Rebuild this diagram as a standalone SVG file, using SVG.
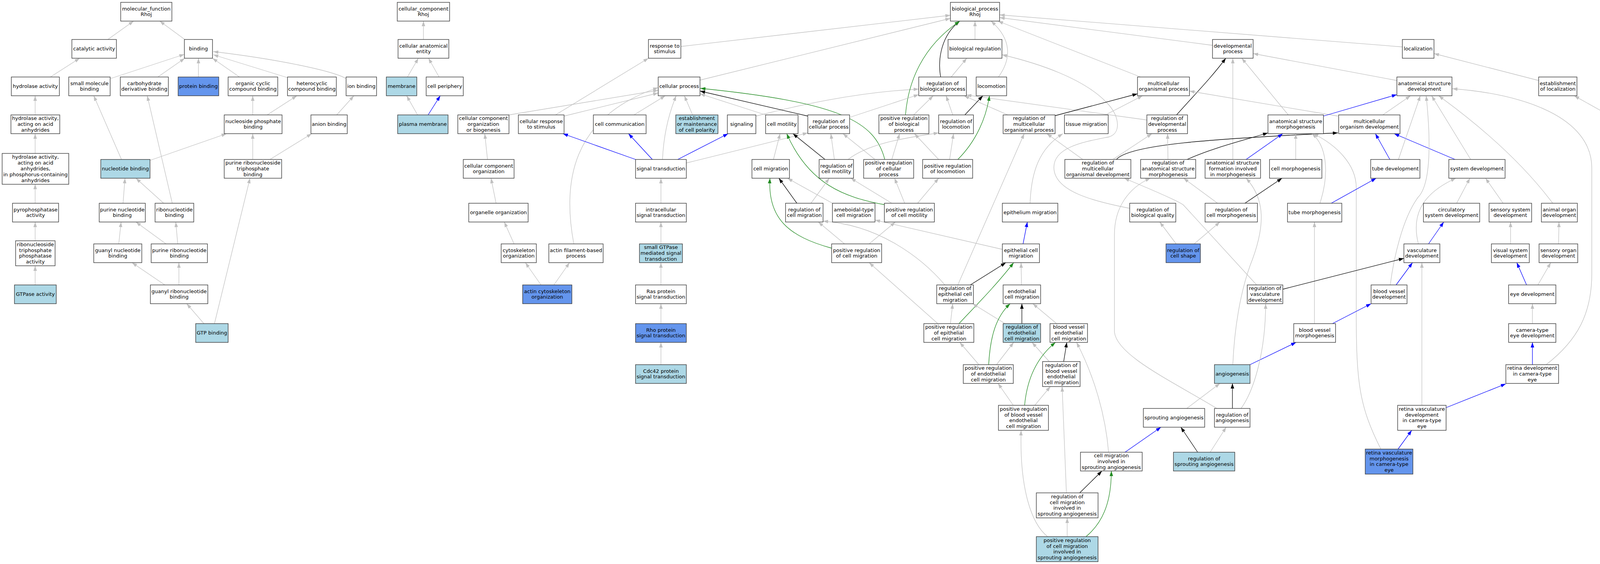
<svg xmlns="http://www.w3.org/2000/svg" width="4239" height="1443" viewBox="0 0 4239 1443">
<style>
.n rect{stroke:#3a3a3a;stroke-width:1.4}
.w{fill:#fff}.lb{fill:#ADD8E6}.cb{fill:#6495ED}
text{font-family:"DejaVu Sans",Verdana,sans-serif;font-size:13px;text-anchor:middle;fill:#000}
#edges path{fill:none;stroke-width:1.3}
.g{stroke:#C0C0C0;marker-end:url(#ag)}
.k{stroke:#000;marker-end:url(#ak)}
.b{stroke:#0000FF;marker-end:url(#ab)}
.gr{stroke:#228B22;marker-end:url(#agr)}
</style>
<defs>
<marker id="ag" markerUnits="userSpaceOnUse" markerWidth="14" markerHeight="10" refX="13" refY="5" orient="auto"><path d="M0,0.5L13,5L0,9.5z" fill="#C0C0C0"/></marker>
<marker id="ak" markerUnits="userSpaceOnUse" markerWidth="14" markerHeight="10" refX="13" refY="5" orient="auto"><path d="M0,0.5L13,5L0,9.5z" fill="#000"/></marker>
<marker id="ab" markerUnits="userSpaceOnUse" markerWidth="14" markerHeight="10" refX="13" refY="5" orient="auto"><path d="M0,0.5L13,5L0,9.5z" fill="#0000FF"/></marker>
<marker id="agr" markerUnits="userSpaceOnUse" markerWidth="14" markerHeight="10" refX="13" refY="5" orient="auto"><path d="M0,0.5L13,5L0,9.5z" fill="#228B22"/></marker>
</defs>
<rect x="0" y="0" width="4239" height="1443" fill="#fff"/>
<g id="edges">
<path class="g" d="M276,101L342,54"/>
<path class="g" d="M473,101L409,54"/>
<path class="g" d="M129,197L204,149"/>
<path class="g" d="M283,201L472,139"/>
<path class="g" d="M404,197L473,149"/>
<path class="g" d="M508,197L508,149"/>
<path class="g" d="M613,197L544,149"/>
<path class="g" d="M737,199L546,140"/>
<path class="g" d="M886,201C850,180 700,150 546,132"/>
<path class="g" d="M90,294L90,245"/>
<path class="g" d="M311,408L240,245"/>
<path class="g" d="M385,410L580,342"/>
<path class="g" d="M441,520L377,245"/>
<path class="g" d="M647,294L647,245"/>
<path class="g" d="M684,294L760,245"/>
<path class="g" d="M647,408L647,342"/>
<path class="g" d="M691,408L798,342"/>
<path class="g" d="M862,294L906,245"/>
<path class="g" d="M90,392L90,342"/>
<path class="g" d="M315,520L320,456"/>
<path class="g" d="M419,520L348,456"/>
<path class="g" d="M90,520L90,471"/>
<path class="g" d="M90,616L90,568"/>
<path class="g" d="M304,624L310,568"/>
<path class="g" d="M425,624L348,568"/>
<path class="g" d="M455,624L450,568"/>
<path class="g" d="M90,729L90,680"/>
<path class="g" d="M422,729L338,672"/>
<path class="g" d="M458,729L458,672"/>
<path class="g" d="M522,828L478,777"/>
<path class="g" d="M549,828L640,456"/>
<path class="g" d="M1084,101L1084,54"/>
<path class="g" d="M1043,197L1071,149"/>
<path class="g" d="M1124,197L1097,149"/>
<path class="g" d="M1069,294L1041,245"/>
<path class="b" d="M1096,294L1127,245"/>
<path class="g" d="M1303,294L1685,231"/>
<path class="g" d="M1422,294L1660,149"/>
<path class="g" d="M1444,297L1685,238"/>
<path class="g" d="M1469,624C1440,470 1460,300 1685,224"/>
<path class="g" d="M1792,205L2433,47"/>
<path class="g" d="M1743,119L2433,39"/>
<path class="g" d="M1623,294L1703,245"/>
<path class="g" d="M1696,408Q1700,320 1731,245"/>
<path class="g" d="M1773,294L1752,245"/>
<path class="g" d="M1935,297C2040,270 2200,235 2352,228"/>
<path class="b" d="M1627,408L1441,342"/>
<path class="b" d="M1670,408L1609,342"/>
<path class="b" d="M1735,408L1864,342"/>
<path class="g" d="M1757,417L2068,340"/>
<path class="g" d="M1960,294L1792,240"/>
<path class="k" d="M2068,297L1792,233"/>
<path class="gr" d="M2265,408C2240,310 2150,262 1793,226"/>
<path class="g" d="M1980,408L1997,342"/>
<path class="g" d="M2136,408L2127,342"/>
<path class="k" d="M2112,408L2030,342"/>
<path class="gr" d="M2266,524C2160,505 2070,470 2014,342"/>
<path class="k" d="M2040,520L1994,456"/>
<path class="g" d="M2076,520L2123,456"/>
<path class="g" d="M2131,520L2016,456"/>
<path class="gr" d="M2129,635C2020,605 1965,560 1971,456"/>
<path class="g" d="M2162,624L2095,568"/>
<path class="g" d="M2419,729C2360,660 2250,575 2107,566"/>
<path class="g" d="M2566,638L2240,563"/>
<path class="g" d="M2225,624L2292,568"/>
<path class="g" d="M2401,828L2225,672"/>
<path class="g" d="M2496,101L2496,54"/>
<path class="g" d="M2435,197L2475,149"/>
<path class="k" d="M2408,197C2400,150 2410,90 2457,54"/>
<path class="gr" d="M2318,294C2325,210 2360,120 2457,54"/>
<path class="g" d="M2556,197C2590,150 2590,100 2537,54"/>
<path class="g" d="M3590,120L2559,38"/>
<path class="g" d="M3104,116L2559,45"/>
<path class="g" d="M2920,197L2555,54"/>
<path class="g" d="M2892,533C2800,515 2700,490 2698,430C2696,375 2780,362 2840,350C2870,340 2865,300 2840,270C2780,200 2650,160 2565,140"/>
<path class="g" d="M2580,294L2468,245"/>
<path class="g" d="M2936,307L2474,243"/>
<path class="k" d="M2701,296L2912,240"/>
<path class="g" d="M2339,294L2389,245"/>
<path class="g" d="M2439,294L2422,245"/>
<path class="k" d="M2470,294L2516,245"/>
<path class="gr" d="M2452,408C2500,360 2525,300 2533,245"/>
<path class="g" d="M2176,300L2352,242"/>
<path class="g" d="M2240,408L2158,342"/>
<path class="g" d="M2283,408L2303,342"/>
<path class="g" d="M2171,408C2220,370 2300,355 2403,340"/>
<path class="g" d="M2403,408L2341,342"/>
<path class="g" d="M2431,408L2441,342"/>
<path class="g" d="M2283,520L2178,456"/>
<path class="g" d="M2316,520L2290,456"/>
<path class="g" d="M2349,520L2403,456"/>
<path class="g" d="M2452,729L2622,342"/>
<path class="g" d="M2772,408L2680,342"/>
<path class="k" d="M2484,729L2575,672"/>
<path class="gr" d="M2455,828C2500,780 2550,730 2595,672"/>
<path class="g" d="M2615,729L2614,672"/>
<path class="b" d="M2619,624L2630,568"/>
<path class="g" d="M2637,520C2640,440 2660,380 2721,342"/>
<path class="g" d="M2433,828L2439,777"/>
<path class="g" d="M2573,828L2490,777"/>
<path class="k" d="M2616,828L2616,777"/>
<path class="g" d="M2705,828L2644,777"/>
<path class="g" d="M2506,933L2457,876"/>
<path class="g" d="M2551,933L2595,876"/>
<path class="gr" d="M2531,933C2535,860 2550,810 2586,777"/>
<path class="g" d="M2686,925L2642,876"/>
<path class="k" d="M2723,925L2731,876"/>
<path class="g" d="M2594,1037L2555,981"/>
<path class="g" d="M2649,1037L2689,989"/>
<path class="gr" d="M2623,1037C2630,960 2660,910 2702,876"/>
<path class="g" d="M2838,1157C2830,1060 2800,960 2756,876"/>
<path class="g" d="M2730,1261L2719,989"/>
<path class="k" d="M2764,1261L2821,1205"/>
<path class="g" d="M2732,1373L2732,1325"/>
<path class="g" d="M2682,1373C2640,1340 2610,1250 2614,1101"/>
<path class="gr" d="M2780,1373C2820,1340 2845,1290 2845,1205"/>
<path class="k" d="M3012,294C3060,240 3100,200 3138,149"/>
<path class="g" d="M3156,408L3156,149"/>
<path class="g" d="M3298,294L3179,149"/>
<path class="g" d="M3576,206L3208,137"/>
<path class="g" d="M3425,297L3045,233"/>
<path class="b" d="M3388,297L3576,242"/>
<path class="g" d="M2830,294L2925,245"/>
<path class="g" d="M2849,408L2949,342"/>
<path class="k" d="M2858,408C2890,370 3100,355 3425,340"/>
<path class="g" d="M2990,408L2989,342"/>
<path class="k" d="M3039,408C3100,380 3180,360 3246,340"/>
<path class="b" d="M3190,408L3284,342"/>
<path class="g" d="M3317,408L3317,342"/>
<path class="g" d="M3379,520C3405,440 3395,370 3358,342"/>
<path class="g" d="M3535,1149C3480,1040 3472,980 3472,800L3472,480C3472,420 3420,370 3362,342"/>
<path class="b" d="M3558,408L3521,342"/>
<path class="b" d="M3725,408L3569,342"/>
<path class="g" d="M3580,408L3636,245"/>
<path class="g" d="M3540,294L3611,245"/>
<path class="g" d="M3559,729C3568,660 3590,560 3630,505C3665,470 3662,350 3651,245"/>
<path class="g" d="M3765,408L3665,245"/>
<path class="g" d="M3975,520C3900,420 3800,330 3683,245"/>
<path class="g" d="M3958,933C4040,870 4075,800 4075,700L4075,430C4075,300 3900,240 3718,227"/>
<path class="b" d="M3657,624L3696,568"/>
<path class="g" d="M3631,624C3615,560 3630,500 3727,456"/>
<path class="g" d="M3729,520L3763,456"/>
<path class="g" d="M3848,520L3803,456"/>
<path class="g" d="M3867,624L3867,568"/>
<path class="g" d="M3990,624L3991,568"/>
<path class="b" d="M3908,729L3883,672"/>
<path class="g" d="M3937,729L3970,672"/>
<path class="g" d="M3923,828L3923,777"/>
<path class="b" d="M3923,933L3923,876"/>
<path class="b" d="M3702,1043L3855,982"/>
<path class="g" d="M3640,1037L3640,672"/>
<path class="b" d="M3579,1149L3614,1101"/>
<path class="b" d="M3574,729L3616,672"/>
<path class="b" d="M3411,828L3510,777"/>
<path class="g" d="M3365,828L3365,568"/>
<path class="k" d="M3284,740L3594,661"/>
<path class="g" d="M3217,729L3030,525Q3020,515 2878,456"/>
<path class="g" d="M3115,1045C3000,975 2860,910 2853,850L2853,600C2853,530 2890,480 2945,456"/>
<path class="g" d="M3156,933C3160,840 3175,750 3200,680C3240,580 3240,510 3190,456"/>
<path class="g" d="M3117,520L3030,456"/>
<path class="k" d="M3187,520L3282,456"/>
<path class="g" d="M3011,624L2969,568"/>
<path class="g" d="M3057,624L3123,568"/>
<path class="b" d="M3408,520L3523,456"/>
<path class="b" d="M3200,933L3318,876"/>
<path class="g" d="M3038,1045L3123,981"/>
<path class="k" d="M3155,1045L3155,981"/>
<path class="g" d="M3177,1045C3210,1000 3240,900 3240,777"/>
<path class="b" d="M2880,1157L2972,1093"/>
<path class="k" d="M3066,1157L3023,1093"/>
<path class="g" d="M3098,1157L3139,1093"/>
<path class="g" d="M3939,206L3671,137"/>
<path class="g" d="M4123,297L4030,245"/>
<path class="g" d="M4170,408L4164,342"/>
<path class="g" d="M4173,520L4173,456"/>
<path class="g" d="M1248,408L1241,342"/>
<path class="g" d="M1270,520L1257,456"/>
<path class="g" d="M1316,624L1291,568"/>
<path class="g" d="M1385,729L1345,672"/>
<path class="g" d="M1418,729L1458,672"/>
<path class="g" d="M1692,520L1692,456"/>
<path class="g" d="M1692,624L1692,568"/>
<path class="g" d="M1692,729L1692,672"/>
<path class="g" d="M1692,828L1692,777"/>
<path class="g" d="M1692,933L1692,876"/>
</g>
<g id="nodes">
<g id="n_mf" class="n"><rect class="w" x="309" y="6" width="131" height="48"/><text x="374.5" y="26.6"><tspan x="374.5">molecular_function</tspan><tspan x="374.5" dy="14.8">Rhoj</tspan></text></g>
<g id="n_cat" class="n"><rect class="w" x="184" y="101" width="114" height="48"/><text x="241" y="129">catalytic activity</text></g>
<g id="n_bind" class="n"><rect class="w" x="472" y="101" width="72" height="48"/><text x="508" y="129">binding</text></g>
<g id="n_hyd" class="n"><rect class="w" x="29" y="197" width="123" height="48"/><text x="90.5" y="225">hydrolase activity</text></g>
<g id="n_smb" class="n"><rect class="w" x="176" y="197" width="106" height="48"/><text x="229" y="217.6"><tspan x="229">small molecule</tspan><tspan x="229" dy="14.8">binding</tspan></text></g>
<g id="n_cdb" class="n"><rect class="w" x="308" y="197" width="123" height="48"/><text x="369.5" y="217.6"><tspan x="369.5">carbohydrate</tspan><tspan x="369.5" dy="14.8">derivative binding</tspan></text></g>
<g id="n_prot" class="n"><rect class="cb" x="456" y="197" width="104" height="48"/><text x="508" y="225">protein binding</text></g>
<g id="n_ocb" class="n"><rect class="w" x="584" y="197" width="127" height="48"/><text x="647.5" y="217.6"><tspan x="647.5">organic cyclic</tspan><tspan x="647.5" dy="14.8">compound binding</tspan></text></g>
<g id="n_hcb" class="n"><rect class="w" x="736" y="197" width="125" height="48"/><text x="798.5" y="217.6"><tspan x="798.5">heterocyclic</tspan><tspan x="798.5" dy="14.8">compound binding</tspan></text></g>
<g id="n_ion" class="n"><rect class="w" x="886" y="197" width="78" height="48"/><text x="925" y="225">ion binding</text></g>
<g id="n_mem" class="n"><rect class="lb" x="989" y="197" width="78" height="48"/><text x="1028" y="225">membrane</text></g>
<g id="n_cper" class="n"><rect class="w" x="1091" y="197" width="95" height="48"/><text x="1138.5" y="225">cell periphery</text></g>
<g id="n_haa" class="n"><rect class="w" x="28" y="294" width="125" height="48"/><text x="90.5" y="307.2"><tspan x="90.5">hydrolase activity,</tspan><tspan x="90.5" dy="14.8">acting on acid</tspan><tspan x="90.5" dy="14.8">anhydrides</tspan></text></g>
<g id="n_npb" class="n"><rect class="w" x="574" y="294" width="148" height="48"/><text x="648" y="314.6"><tspan x="648">nucleoside phosphate</tspan><tspan x="648" dy="14.8">binding</tspan></text></g>
<g id="n_anion" class="n"><rect class="w" x="796" y="294" width="93" height="48"/><text x="842.5" y="322">anion binding</text></g>
<g id="n_pm" class="n"><rect class="lb" x="1018" y="294" width="129" height="48"/><text x="1082.5" y="322">plasma membrane</text></g>
<g id="n_hpc" class="n"><rect class="w" x="5.5" y="392.5" width="170.5" height="79"/><text x="90.75" y="406.4"><tspan x="90.75">hydrolase activity,</tspan><tspan x="90.75" dy="14.8">acting on acid</tspan><tspan x="90.75" dy="14.8">anhydrides,</tspan><tspan x="90.75" dy="14.8">in phosphorus-containing</tspan><tspan x="90.75" dy="14.8">anhydrides</tspan></text></g>
<g id="n_nb" class="n"><rect class="lb" x="258" y="408" width="126" height="48"/><text x="321" y="436">nucleotide binding</text></g>
<g id="n_prtb" class="n"><rect class="w" x="574" y="408" width="147" height="48"/><text x="647.5" y="421.2"><tspan x="647.5">purine ribonucleoside</tspan><tspan x="647.5" dy="14.8">triphosphate</tspan><tspan x="647.5" dy="14.8">binding</tspan></text></g>
<g id="n_pyro" class="n"><rect class="w" x="32" y="520" width="118" height="48"/><text x="91" y="540.6"><tspan x="91">pyrophosphatase</tspan><tspan x="91" dy="14.8">activity</tspan></text></g>
<g id="n_pnb" class="n"><rect class="w" x="254" y="520" width="118" height="48"/><text x="313" y="540.6"><tspan x="313">purine nucleotide</tspan><tspan x="313" dy="14.8">binding</tspan></text></g>
<g id="n_rnb" class="n"><rect class="w" x="397" y="520" width="99" height="48"/><text x="446.5" y="540.6"><tspan x="446.5">ribonucleotide</tspan><tspan x="446.5" dy="14.8">binding</tspan></text></g>
<g id="n_rtpa" class="n"><rect class="w" x="40" y="616" width="101" height="64"/><text x="90.5" y="629.8"><tspan x="90.5">ribonucleoside</tspan><tspan x="90.5" dy="14.8">triphosphate</tspan><tspan x="90.5" dy="14.8">phosphatase</tspan><tspan x="90.5" dy="14.8">activity</tspan></text></g>
<g id="n_gnb" class="n"><rect class="w" x="240" y="624" width="123" height="48"/><text x="301.5" y="644.6"><tspan x="301.5">guanyl nucleotide</tspan><tspan x="301.5" dy="14.8">binding</tspan></text></g>
<g id="n_prnb" class="n"><rect class="w" x="387" y="624" width="144" height="48"/><text x="459" y="644.6"><tspan x="459">purine ribonucleotide</tspan><tspan x="459" dy="14.8">binding</tspan></text></g>
<g id="n_gtpase" class="n"><rect class="lb" x="37" y="729" width="107" height="48"/><text x="90.5" y="757">GTPase activity</text></g>
<g id="n_grnb" class="n"><rect class="w" x="385" y="729" width="147" height="48"/><text x="458.5" y="749.6"><tspan x="458.5">guanyl ribonucleotide</tspan><tspan x="458.5" dy="14.8">binding</tspan></text></g>
<g id="n_gtpb" class="n"><rect class="lb" x="501" y="828" width="83" height="48"/><text x="542.5" y="856">GTP binding</text></g>
<g id="n_cc" class="n"><rect class="w" x="1017" y="6" width="134" height="48"/><text x="1084" y="26.6"><tspan x="1084">cellular_component</tspan><tspan x="1084" dy="14.8">Rhoj</tspan></text></g>
<g id="n_cae" class="n"><rect class="w" x="1019" y="101" width="130" height="48"/><text x="1084" y="121.6"><tspan x="1084">cellular anatomical</tspan><tspan x="1084" dy="14.8">entity</tspan></text></g>
<g id="n_bp" class="n"><rect class="w" x="2433" y="6" width="126" height="48"/><text x="2496" y="26.6"><tspan x="2496">biological_process</tspan><tspan x="2496" dy="14.8">Rhoj</tspan></text></g>
<g id="n_rts" class="n"><rect class="w" x="1660" y="101" width="83" height="48"/><text x="1701.5" y="121.6"><tspan x="1701.5">response to</tspan><tspan x="1701.5" dy="14.8">stimulus</tspan></text></g>
<g id="n_breg" class="n"><rect class="w" x="2427" y="101" width="138" height="48"/><text x="2496" y="129">biological regulation</text></g>
<g id="n_dev" class="n"><rect class="w" x="3104" y="101" width="104" height="48"/><text x="3156" y="121.6"><tspan x="3156">developmental</tspan><tspan x="3156" dy="14.8">process</tspan></text></g>
<g id="n_loc" class="n"><rect class="w" x="3590" y="101" width="81" height="48"/><text x="3630.5" y="129">localization</text></g>
<g id="n_cp" class="n"><rect class="w" x="1685" y="197" width="107" height="48"/><text x="1738.5" y="225">cellular process</text></g>
<g id="n_rbp" class="n"><rect class="w" x="2352" y="197" width="122" height="48"/><text x="2413" y="217.6"><tspan x="2413">regulation of</tspan><tspan x="2413" dy="14.8">biological process</tspan></text></g>
<g id="n_locom" class="n"><rect class="w" x="2499" y="197" width="78" height="48"/><text x="2538" y="225">locomotion</text></g>
<g id="n_mop" class="n"><rect class="w" x="2912" y="197" width="133" height="48"/><text x="2978.5" y="217.6"><tspan x="2978.5">multicellular</tspan><tspan x="2978.5" dy="14.8">organismal process</tspan></text></g>
<g id="n_asd" class="n"><rect class="w" x="3576" y="197" width="141" height="48"/><text x="3646.5" y="217.6"><tspan x="3646.5">anatomical structure</tspan><tspan x="3646.5" dy="14.8">development</tspan></text></g>
<g id="n_eloc" class="n"><rect class="w" x="3939" y="197" width="98" height="48"/><text x="3988" y="217.6"><tspan x="3988">establishment</tspan><tspan x="3988" dy="14.8">of localization</tspan></text></g>
<g id="n_ccob" class="n"><rect class="w" x="1172" y="294" width="131" height="48"/><text x="1237.5" y="307.2"><tspan x="1237.5">cellular component</tspan><tspan x="1237.5" dy="14.8">organization</tspan><tspan x="1237.5" dy="14.8">or biogenesis</tspan></text></g>
<g id="n_crs" class="n"><rect class="w" x="1327" y="294" width="117" height="48"/><text x="1385.5" y="314.6"><tspan x="1385.5">cellular response</tspan><tspan x="1385.5" dy="14.8">to stimulus</tspan></text></g>
<g id="n_ccomm" class="n"><rect class="w" x="1519" y="294" width="135" height="48"/><text x="1586.5" y="322">cell communication</text></g>
<g id="n_ecp" class="n"><rect class="lb" x="1730" y="294" width="108" height="48"/><text x="1784" y="307.2"><tspan x="1784">establishment</tspan><tspan x="1784" dy="14.8">or maintenance</tspan><tspan x="1784" dy="14.8">of cell polarity</tspan></text></g>
<g id="n_sig" class="n"><rect class="w" x="1862" y="294" width="73" height="48"/><text x="1898.5" y="322">signaling</text></g>
<g id="n_cmot" class="n"><rect class="w" x="1960" y="294" width="83" height="48"/><text x="2001.5" y="322">cell motility</text></g>
<g id="n_rcp" class="n"><rect class="w" x="2068" y="294" width="107" height="48"/><text x="2121.5" y="314.6"><tspan x="2121.5">regulation of</tspan><tspan x="2121.5" dy="14.8">cellular process</tspan></text></g>
<g id="n_prbp" class="n"><rect class="w" x="2250" y="294" width="128" height="48"/><text x="2314" y="307.2"><tspan x="2314">positive regulation</tspan><tspan x="2314" dy="14.8">of biological</tspan><tspan x="2314" dy="14.8">process</tspan></text></g>
<g id="n_rloc" class="n"><rect class="w" x="2403" y="294" width="89" height="48"/><text x="2447.5" y="314.6"><tspan x="2447.5">regulation of</tspan><tspan x="2447.5" dy="14.8">locomotion</tspan></text></g>
<g id="n_rmop" class="n"><rect class="w" x="2568" y="294" width="133" height="48"/><text x="2634.5" y="307.2"><tspan x="2634.5">regulation of</tspan><tspan x="2634.5" dy="14.8">multicellular</tspan><tspan x="2634.5" dy="14.8">organismal process</tspan></text></g>
<g id="n_tmig" class="n"><rect class="w" x="2725" y="294" width="112" height="48"/><text x="2781" y="322">tissue migration</text></g>
<g id="n_rdp" class="n"><rect class="w" x="2936" y="294" width="104" height="48"/><text x="2988" y="307.2"><tspan x="2988">regulation of</tspan><tspan x="2988" dy="14.8">developmental</tspan><tspan x="2988" dy="14.8">process</tspan></text></g>
<g id="n_asm" class="n"><rect class="w" x="3246" y="294" width="142" height="48"/><text x="3317" y="314.6"><tspan x="3317">anatomical structure</tspan><tspan x="3317" dy="14.8">morphogenesis</tspan></text></g>
<g id="n_mod" class="n"><rect class="w" x="3427" y="294" width="157" height="48"/><text x="3505.5" y="314.6"><tspan x="3505.5">multicellular</tspan><tspan x="3505.5" dy="14.8">organism development</tspan></text></g>
<g id="n_trans" class="n"><rect class="w" x="4125" y="294" width="72" height="48"/><text x="4161" y="322">transport</text></g>
<g id="n_cco" class="n"><rect class="w" x="1186" y="408" width="130" height="48"/><text x="1251" y="428.6"><tspan x="1251">cellular component</tspan><tspan x="1251" dy="14.8">organization</tspan></text></g>
<g id="n_st" class="n"><rect class="w" x="1627" y="408" width="130" height="48"/><text x="1692" y="436">signal transduction</text></g>
<g id="n_cmig" class="n"><rect class="w" x="1925" y="408" width="96" height="48"/><text x="1973" y="436">cell migration</text></g>
<g id="n_rcm" class="n"><rect class="w" x="2097" y="408" width="88" height="48"/><text x="2141" y="428.6"><tspan x="2141">regulation of</tspan><tspan x="2141" dy="14.8">cell motility</tspan></text></g>
<g id="n_prcp" class="n"><rect class="w" x="2211" y="408" width="128" height="48"/><text x="2275" y="421.2"><tspan x="2275">positive regulation</tspan><tspan x="2275" dy="14.8">of cellular</tspan><tspan x="2275" dy="14.8">process</tspan></text></g>
<g id="n_prl" class="n"><rect class="w" x="2362" y="408" width="128" height="48"/><text x="2426" y="428.6"><tspan x="2426">positive regulation</tspan><tspan x="2426" dy="14.8">of locomotion</tspan></text></g>
<g id="n_rmod" class="n"><rect class="w" x="2726" y="408" width="169" height="48"/><text x="2810.5" y="421.2"><tspan x="2810.5">regulation of</tspan><tspan x="2810.5" dy="14.8">multicellular</tspan><tspan x="2810.5" dy="14.8">organismal development</tspan></text></g>
<g id="n_rasm" class="n"><rect class="w" x="2920" y="408" width="141" height="48"/><text x="2990.5" y="421.2"><tspan x="2990.5">regulation of</tspan><tspan x="2990.5" dy="14.8">anatomical structure</tspan><tspan x="2990.5" dy="14.8">morphogenesis</tspan></text></g>
<g id="n_asf" class="n"><rect class="w" x="3085" y="408" width="142" height="48"/><text x="3156" y="421.2"><tspan x="3156">anatomical structure</tspan><tspan x="3156" dy="14.8">formation involved</tspan><tspan x="3156" dy="14.8">in morphogenesis</tspan></text></g>
<g id="n_cmorph" class="n"><rect class="w" x="3250" y="408" width="134" height="48"/><text x="3317" y="436">cell morphogenesis</text></g>
<g id="n_tdev" class="n"><rect class="w" x="3509" y="408" width="126" height="48"/><text x="3572" y="436">tube development</text></g>
<g id="n_sysd" class="n"><rect class="w" x="3709" y="408" width="144" height="48"/><text x="3781" y="436">system development</text></g>
<g id="n_vmt" class="n"><rect class="w" x="4115" y="408" width="117" height="48"/><text x="4173.5" y="428.6"><tspan x="4173.5">vesicle-mediated</tspan><tspan x="4173.5" dy="14.8">transport</tspan></text></g>
<g id="n_oo" class="n"><rect class="w" x="1200" y="520" width="152" height="48"/><text x="1276" y="548">organelle organization</text></g>
<g id="n_ist" class="n"><rect class="w" x="1627" y="520" width="130" height="48"/><text x="1692" y="540.6"><tspan x="1692">intracellular</tspan><tspan x="1692" dy="14.8">signal transduction</tspan></text></g>
<g id="n_rcmig" class="n"><rect class="w" x="2011" y="520" width="96" height="48"/><text x="2059" y="540.6"><tspan x="2059">regulation of</tspan><tspan x="2059" dy="14.8">cell migration</tspan></text></g>
<g id="n_amig" class="n"><rect class="w" x="2131" y="520" width="109" height="48"/><text x="2185.5" y="540.6"><tspan x="2185.5">ameboidal-type</tspan><tspan x="2185.5" dy="14.8">cell migration</tspan></text></g>
<g id="n_prcmot" class="n"><rect class="w" x="2264" y="520" width="128" height="48"/><text x="2328" y="540.6"><tspan x="2328">positive regulation</tspan><tspan x="2328" dy="14.8">of cell motility</tspan></text></g>
<g id="n_epim" class="n"><rect class="w" x="2566" y="520" width="142" height="48"/><text x="2637" y="548">epithelium migration</text></g>
<g id="n_rbq" class="n"><rect class="w" x="2892" y="520" width="118" height="48"/><text x="2951" y="540.6"><tspan x="2951">regulation of</tspan><tspan x="2951" dy="14.8">biological quality</tspan></text></g>
<g id="n_rcmorph" class="n"><rect class="w" x="3085" y="520" width="134" height="48"/><text x="3152" y="540.6"><tspan x="3152">regulation of</tspan><tspan x="3152" dy="14.8">cell morphogenesis</tspan></text></g>
<g id="n_tmorph" class="n"><rect class="w" x="3296" y="520" width="139" height="48"/><text x="3365.5" y="548">tube morphogenesis</text></g>
<g id="n_csd" class="n"><rect class="w" x="3644" y="520" width="144" height="48"/><text x="3716" y="540.6"><tspan x="3716">circulatory</tspan><tspan x="3716" dy="14.8">system development</tspan></text></g>
<g id="n_ssd" class="n"><rect class="w" x="3812" y="520" width="109" height="48"/><text x="3866.5" y="540.6"><tspan x="3866.5">sensory system</tspan><tspan x="3866.5" dy="14.8">development</tspan></text></g>
<g id="n_aod" class="n"><rect class="w" x="3946" y="520" width="92" height="48"/><text x="3992" y="540.6"><tspan x="3992">animal organ</tspan><tspan x="3992" dy="14.8">development</tspan></text></g>
<g id="n_endo" class="n"><rect class="lb" x="4132" y="520" width="83" height="48"/><text x="4173.5" y="548">endocytosis</text></g>
<g id="n_cso" class="n"><rect class="w" x="1283" y="624" width="90" height="48"/><text x="1328" y="644.6"><tspan x="1328">cytoskeleton</tspan><tspan x="1328" dy="14.8">organization</tspan></text></g>
<g id="n_afbp" class="n"><rect class="w" x="1405" y="624" width="139" height="48"/><text x="1474.5" y="644.6"><tspan x="1474.5">actin filament-based</tspan><tspan x="1474.5" dy="14.8">process</tspan></text></g>
<g id="n_sgtp" class="n"><rect class="lb" x="1637" y="624" width="110" height="48"/><text x="1692" y="637.2"><tspan x="1692">small GTPase</tspan><tspan x="1692" dy="14.8">mediated signal</tspan><tspan x="1692" dy="14.8">transduction</tspan></text></g>
<g id="n_prcmig" class="n"><rect class="w" x="2129" y="624" width="128" height="48"/><text x="2193" y="644.6"><tspan x="2193">positive regulation</tspan><tspan x="2193" dy="14.8">of cell migration</tspan></text></g>
<g id="n_ecm" class="n"><rect class="w" x="2566" y="624" width="95" height="48"/><text x="2613.5" y="644.6"><tspan x="2613.5">epithelial cell</tspan><tspan x="2613.5" dy="14.8">migration</tspan></text></g>
<g id="n_rcs" class="n"><rect class="cb" x="2985" y="624" width="88" height="48"/><text x="3029" y="644.6"><tspan x="3029">regulation of</tspan><tspan x="3029" dy="14.8">cell shape</tspan></text></g>
<g id="n_vd" class="n"><rect class="w" x="3594" y="624" width="92" height="48"/><text x="3640" y="644.6"><tspan x="3640">vasculature</tspan><tspan x="3640" dy="14.8">development</tspan></text></g>
<g id="n_vsd" class="n"><rect class="w" x="3818" y="624" width="97" height="48"/><text x="3866.5" y="644.6"><tspan x="3866.5">visual system</tspan><tspan x="3866.5" dy="14.8">development</tspan></text></g>
<g id="n_sod" class="n"><rect class="w" x="3940" y="624" width="99" height="48"/><text x="3989.5" y="644.6"><tspan x="3989.5">sensory organ</tspan><tspan x="3989.5" dy="14.8">development</tspan></text></g>
<g id="n_aco" class="n"><rect class="cb" x="1338" y="729" width="126" height="48"/><text x="1401" y="749.6"><tspan x="1401">actin cytoskeleton</tspan><tspan x="1401" dy="14.8">organization</tspan></text></g>
<g id="n_ras" class="n"><rect class="w" x="1627" y="729" width="130" height="48"/><text x="1692" y="749.6"><tspan x="1692">Ras protein</tspan><tspan x="1692" dy="14.8">signal transduction</tspan></text></g>
<g id="n_recm" class="n"><rect class="w" x="2398" y="729" width="94" height="48"/><text x="2445" y="742.2"><tspan x="2445">regulation of</tspan><tspan x="2445" dy="14.8">epithelial cell</tspan><tspan x="2445" dy="14.8">migration</tspan></text></g>
<g id="n_encm" class="n"><rect class="w" x="2568" y="729" width="96" height="48"/><text x="2616" y="749.6"><tspan x="2616">endothelial</tspan><tspan x="2616" dy="14.8">cell migration</tspan></text></g>
<g id="n_rvd" class="n"><rect class="w" x="3193" y="729" width="91" height="48"/><text x="3238.5" y="742.2"><tspan x="3238.5">regulation of</tspan><tspan x="3238.5" dy="14.8">vasculature</tspan><tspan x="3238.5" dy="14.8">development</tspan></text></g>
<g id="n_bvd" class="n"><rect class="w" x="3510" y="729" width="92" height="48"/><text x="3556" y="749.6"><tspan x="3556">blood vessel</tspan><tspan x="3556" dy="14.8">development</tspan></text></g>
<g id="n_eye" class="n"><rect class="w" x="3862" y="729" width="121" height="48"/><text x="3922.5" y="757">eye development</text></g>
<g id="n_rho" class="n"><rect class="cb" x="1627" y="828" width="130" height="48"/><text x="1692" y="848.6"><tspan x="1692">Rho protein</tspan><tspan x="1692" dy="14.8">signal transduction</tspan></text></g>
<g id="n_precm" class="n"><rect class="w" x="2365" y="828" width="128" height="48"/><text x="2429" y="841.2"><tspan x="2429">positive regulation</tspan><tspan x="2429" dy="14.8">of epithelial</tspan><tspan x="2429" dy="14.8">cell migration</tspan></text></g>
<g id="n_rencm" class="n"><rect class="lb" x="2568" y="828" width="96" height="48"/><text x="2616" y="841.2"><tspan x="2616">regulation of</tspan><tspan x="2616" dy="14.8">endothelial</tspan><tspan x="2616" dy="14.8">cell migration</tspan></text></g>
<g id="n_bvecm" class="n"><rect class="w" x="2688" y="828" width="96" height="48"/><text x="2736" y="841.2"><tspan x="2736">blood vessel</tspan><tspan x="2736" dy="14.8">endothelial</tspan><tspan x="2736" dy="14.8">cell migration</tspan></text></g>
<g id="n_bvm" class="n"><rect class="w" x="3312" y="828" width="107" height="48"/><text x="3365.5" y="848.6"><tspan x="3365.5">blood vessel</tspan><tspan x="3365.5" dy="14.8">morphogenesis</tspan></text></g>
<g id="n_ced" class="n"><rect class="w" x="3862" y="828" width="121" height="48"/><text x="3922.5" y="848.6"><tspan x="3922.5">camera-type</tspan><tspan x="3922.5" dy="14.8">eye development</tspan></text></g>
<g id="n_cdc42" class="n"><rect class="lb" x="1627" y="933" width="130" height="48"/><text x="1692" y="953.6"><tspan x="1692">Cdc42 protein</tspan><tspan x="1692" dy="14.8">signal transduction</tspan></text></g>
<g id="n_prencm" class="n"><rect class="w" x="2466" y="933" width="128" height="48"/><text x="2530" y="946.2"><tspan x="2530">positive regulation</tspan><tspan x="2530" dy="14.8">of endothelial</tspan><tspan x="2530" dy="14.8">cell migration</tspan></text></g>
<g id="n_rbvecm" class="n"><rect class="w" x="2669" y="925" width="96" height="64"/><text x="2717" y="938.8"><tspan x="2717">regulation of</tspan><tspan x="2717" dy="14.8">blood vessel</tspan><tspan x="2717" dy="14.8">endothelial</tspan><tspan x="2717" dy="14.8">cell migration</tspan></text></g>
<g id="n_angio" class="n"><rect class="lb" x="3109" y="933" width="91" height="48"/><text x="3154.5" y="961">angiogenesis</text></g>
<g id="n_rdce" class="n"><rect class="w" x="3855" y="933" width="135" height="48"/><text x="3922.5" y="946.2"><tspan x="3922.5">retina development</tspan><tspan x="3922.5" dy="14.8">in camera-type</tspan><tspan x="3922.5" dy="14.8">eye</tspan></text></g>
<g id="n_prbvecm" class="n"><rect class="w" x="2556" y="1037" width="128" height="64"/><text x="2620" y="1050.8"><tspan x="2620">positive regulation</tspan><tspan x="2620" dy="14.8">of blood vessel</tspan><tspan x="2620" dy="14.8">endothelial</tspan><tspan x="2620" dy="14.8">cell migration</tspan></text></g>
<g id="n_sa" class="n"><rect class="w" x="2927" y="1045" width="157" height="48"/><text x="3005.5" y="1073">sprouting angiogenesis</text></g>
<g id="n_ra" class="n"><rect class="w" x="3109" y="1045" width="91" height="48"/><text x="3154.5" y="1065.6"><tspan x="3154.5">regulation of</tspan><tspan x="3154.5" dy="14.8">angiogenesis</tspan></text></g>
<g id="n_rvdce" class="n"><rect class="w" x="3578" y="1037" width="124" height="64"/><text x="3640" y="1050.8"><tspan x="3640">retina vasculature</tspan><tspan x="3640" dy="14.8">development</tspan><tspan x="3640" dy="14.8">in camera-type</tspan><tspan x="3640" dy="14.8">eye</tspan></text></g>
<g id="n_cmisa" class="n"><rect class="w" x="2766" y="1157" width="158" height="48"/><text x="2845" y="1170.2"><tspan x="2845">cell migration</tspan><tspan x="2845" dy="14.8">involved in</tspan><tspan x="2845" dy="14.8">sprouting angiogenesis</tspan></text></g>
<g id="n_rsa" class="n"><rect class="lb" x="3004" y="1157" width="157" height="48"/><text x="3082.5" y="1177.6"><tspan x="3082.5">regulation of</tspan><tspan x="3082.5" dy="14.8">sprouting angiogenesis</tspan></text></g>
<g id="n_rvmce" class="n"><rect class="cb" x="3495" y="1149" width="122" height="64"/><text x="3556" y="1162.8"><tspan x="3556">retina vasculature</tspan><tspan x="3556" dy="14.8">morphogenesis</tspan><tspan x="3556" dy="14.8">in camera-type</tspan><tspan x="3556" dy="14.8">eye</tspan></text></g>
<g id="n_rcmisa" class="n"><rect class="w" x="2653" y="1261" width="158" height="64"/><text x="2732" y="1274.8"><tspan x="2732">regulation of</tspan><tspan x="2732" dy="14.8">cell migration</tspan><tspan x="2732" dy="14.8">involved in</tspan><tspan x="2732" dy="14.8">sprouting angiogenesis</tspan></text></g>
<g id="n_prcmisa" class="n"><rect class="lb" x="2653" y="1373" width="158" height="64"/><text x="2732" y="1386.8"><tspan x="2732">positive regulation</tspan><tspan x="2732" dy="14.8">of cell migration</tspan><tspan x="2732" dy="14.8">involved in</tspan><tspan x="2732" dy="14.8">sprouting angiogenesis</tspan></text></g>
</g>
</svg>
